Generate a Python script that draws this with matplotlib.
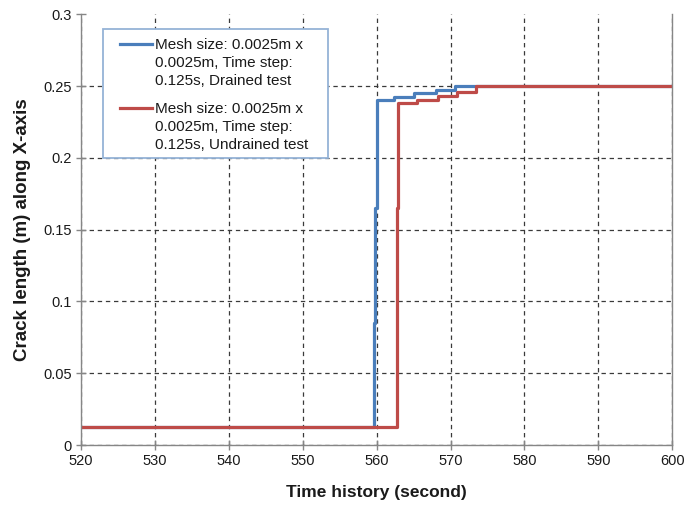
"""Crack growth along the X-axis for drained and undrained runs."""

import matplotlib

matplotlib.use("Agg")

import matplotlib.pyplot as plt
import numpy as np
from matplotlib.legend_handler import HandlerLine2D
from matplotlib.patches import Rectangle


plt.rcParams["font.family"] = ["Liberation Sans", "DejaVu Sans"]

# step history of the crack tip (time in s, crack length in m)
drained_time = [520, 559.6, 559.8, 560.0, 562.3, 565.0, 568.0, 570.6, 600]
drained_crack = [0.0125, 0.085, 0.165, 0.240, 0.2425, 0.245, 0.2475, 0.25, 0.25]

undrained_time = [520, 562.7, 562.8, 562.9, 565.5, 568.3, 570.9, 573.5, 600]
undrained_crack = [0.0125, 0.085, 0.165, 0.238, 0.2405, 0.243, 0.246, 0.25, 0.25]

drained_label = "Mesh size: 0.0025m x\n0.0025m, Time step:\n0.125s, Drained test"
undrained_label = "Mesh size: 0.0025m x\n0.0025m, Time step:\n0.125s, Undrained test"

x_ticks = [520, 530, 540, 550, 560, 570, 580, 590, 600]
y_ticks = [0, 0.05, 0.1, 0.15, 0.2, 0.25, 0.3]
y_tick_labels = ["0", "0.05", "0.1", "0.15", "0.2", "0.25", "0.3"]

BLUE = "#4a7ebb"
RED = "#be4b48"
AXIS_GREY = "#868686"
TEXT = "#1a1a1a"

LEGEND_FONT = 11
LEGEND_LINESPACING = 1.38


class FirstLineHandler(HandlerLine2D):
    """Legend line drawn beside the first line of a multi-line label."""

    def create_artists(self, legend, orig_handle, xdescent, ydescent,
                       width, height, fontsize, trans):
        artists = super().create_artists(legend, orig_handle, xdescent,
                                         ydescent, width, height, fontsize,
                                         trans)
        lift = 0.9 * LEGEND_LINESPACING * fontsize
        for artist in artists:
            artist.set_ydata(np.asarray(artist.get_ydata()) + lift)
        return artists


fig = plt.figure(figsize=(6.86, 5.08), dpi=100)
ax = fig.add_axes([0.118, 0.124, 0.862, 0.848])

ax.plot(drained_time, drained_crack, drawstyle="steps-post",
        color=BLUE, linewidth=2.3, label=drained_label)
ax.plot(undrained_time, undrained_crack, drawstyle="steps-post",
        color=RED, linewidth=2.3, label=undrained_label)

ax.set_xlim(520, 600)
ax.set_ylim(0, 0.3)
ax.set_xticks(x_ticks)
ax.set_yticks(y_ticks)
ax.set_yticklabels(y_tick_labels)

ax.grid(True, color="#3a3a3a", linestyle=(0, (3.5, 3)), linewidth=0.9)
ax.set_axisbelow(True)
# no gridline along the top edge
ax.get_ygridlines()[-1].set_visible(False)

ax.spines["top"].set_visible(False)
for side in ("left", "bottom", "right"):
    ax.spines[side].set_color(AXIS_GREY)
    ax.spines[side].set_linewidth(1.0)

ax.tick_params(axis="both", direction="inout", length=7, width=1.0,
               color=AXIS_GREY, labelsize=10.5, labelcolor=TEXT, pad=3)

ax.set_xlabel("Time history (second)", fontsize=12.5, fontweight="bold",
              color=TEXT, labelpad=12)
ax.set_ylabel("Crack length (m) along X-axis", fontsize=13.5,
              fontweight="bold", color=TEXT, labelpad=9)

# legend box, drawn separately so its padding can differ per side
legend_box = Rectangle((103 / 686, 1 - 158 / 508), 225 / 686, 129 / 508,
                       transform=fig.transFigure, facecolor="white",
                       edgecolor="#95b3d7", linewidth=1.3, zorder=4,
                       clip_on=False)
ax.add_patch(legend_box)

legend = ax.legend(
    loc="upper left",
    bbox_to_anchor=(120 / 686, 1 - 38 / 508),
    bbox_transform=fig.transFigure,
    fontsize=LEGEND_FONT,
    frameon=False,
    borderpad=0,
    borderaxespad=0,
    labelspacing=0.9,
    handlelength=2.1,
    handletextpad=0.2,
    handler_map={plt.Line2D: FirstLineHandler()},
)
legend.set_zorder(5)
for text in legend.get_texts():
    text.set_color(TEXT)
    text.set_linespacing(LEGEND_LINESPACING)

fig.savefig("out.png", dpi=100)
